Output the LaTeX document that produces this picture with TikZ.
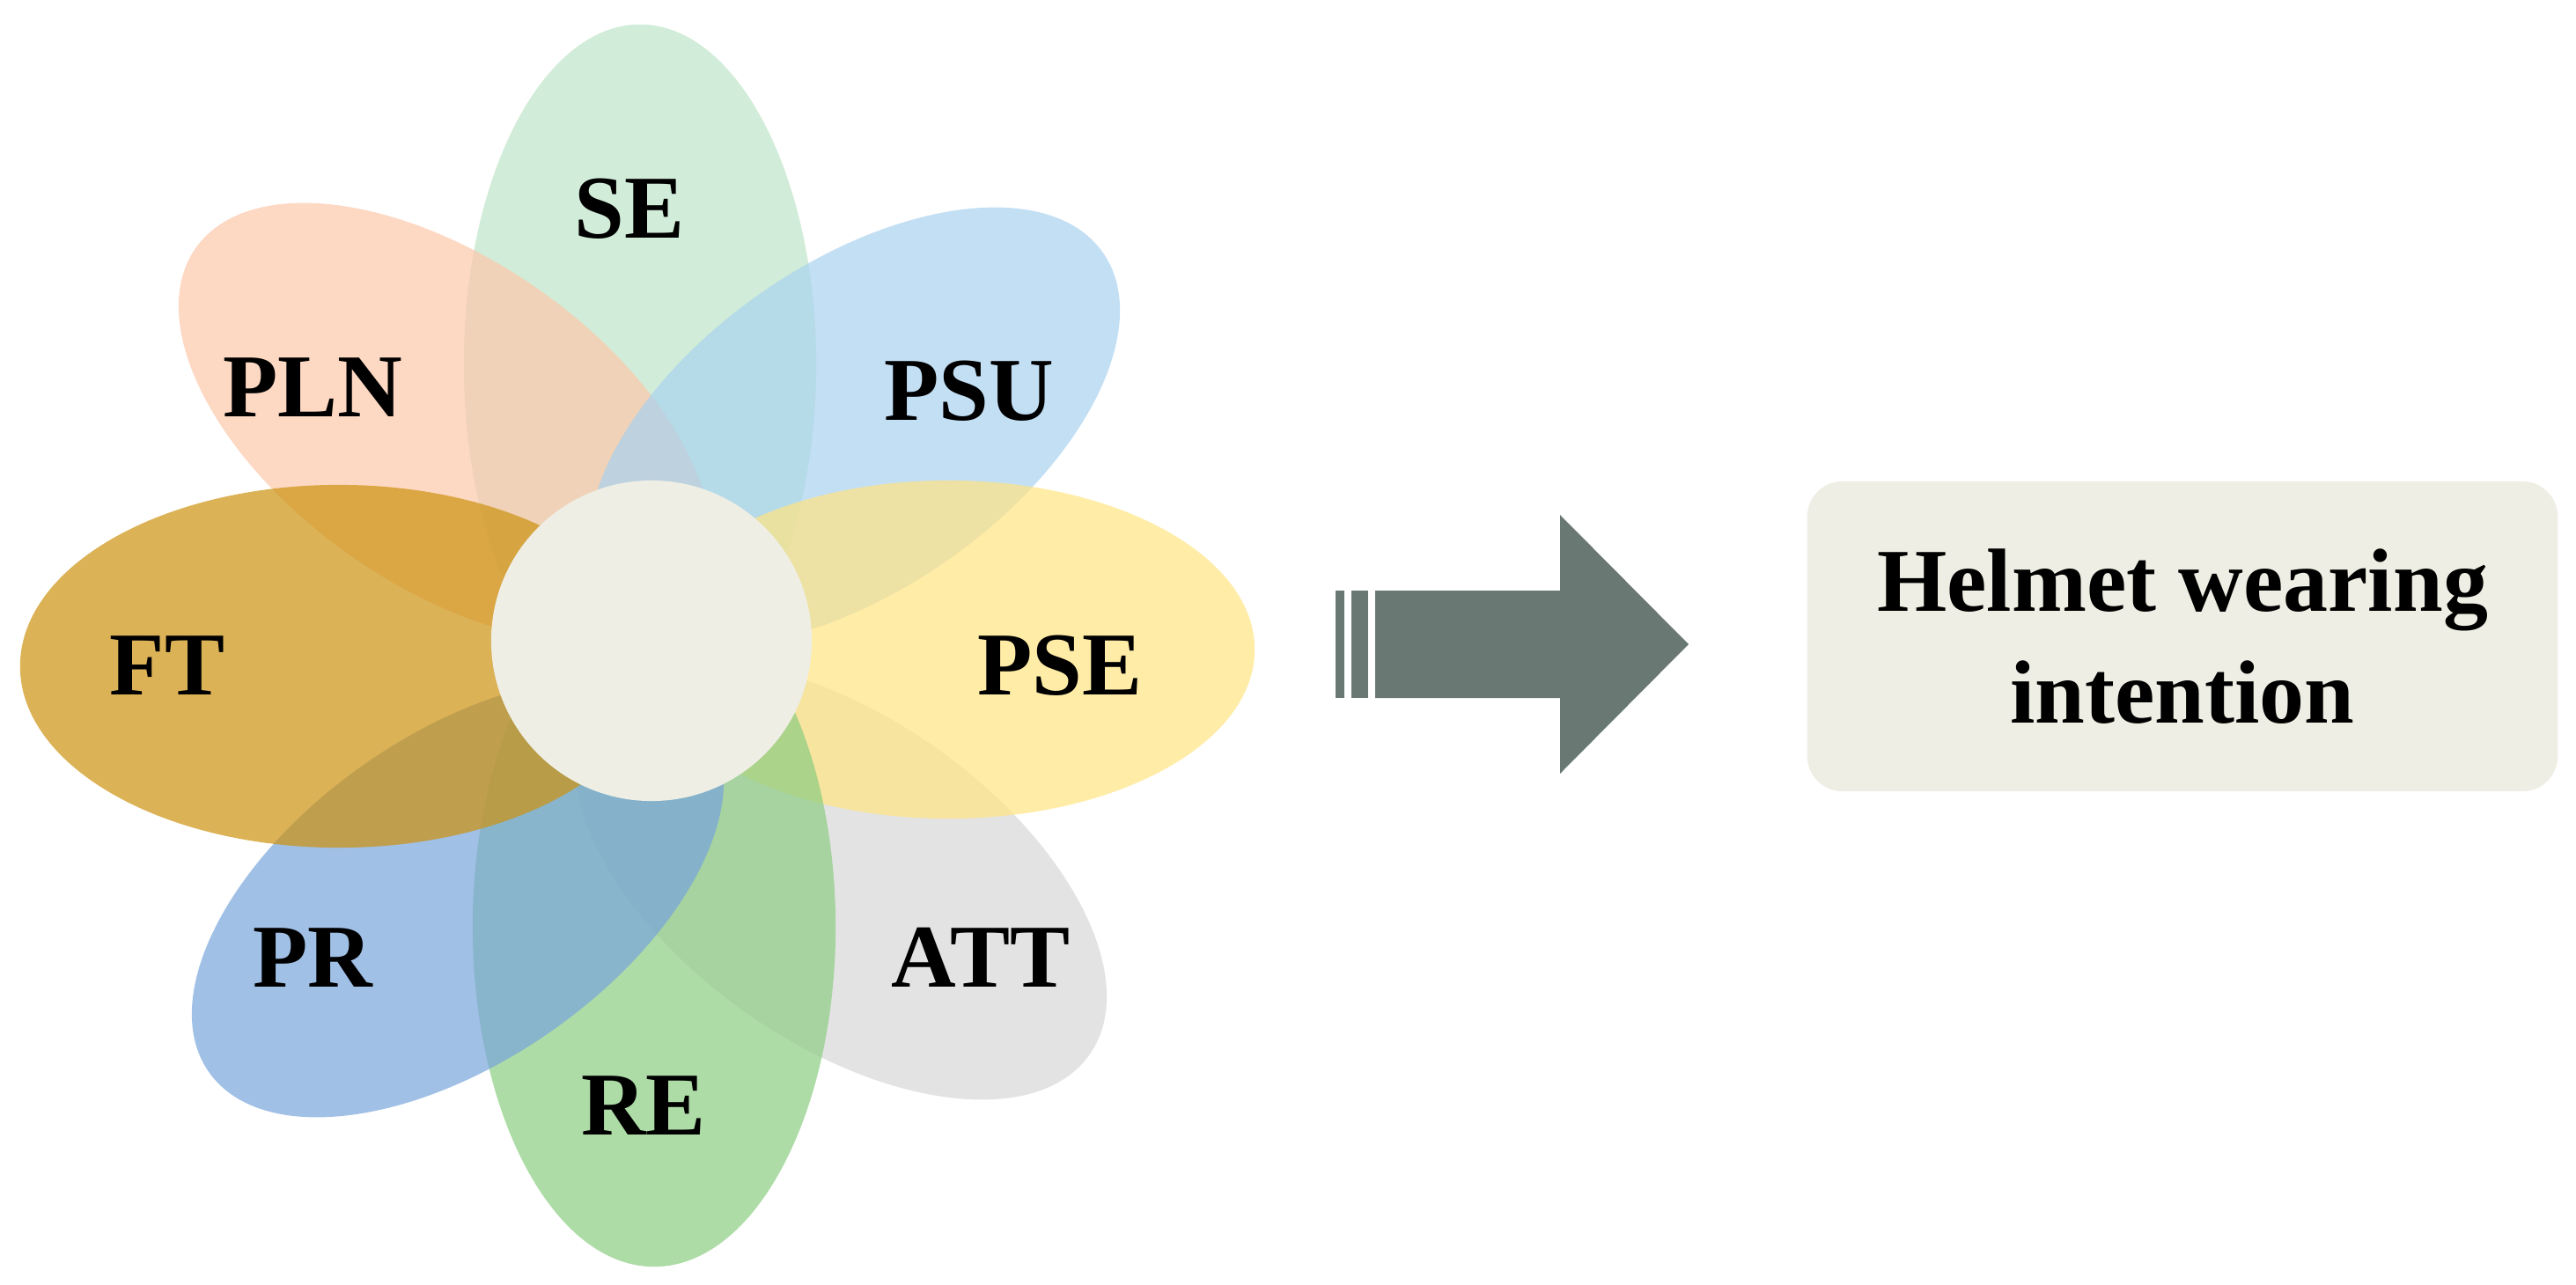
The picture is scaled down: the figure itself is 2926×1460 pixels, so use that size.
\documentclass[tikz,border=0pt]{standalone}
\usepackage{fontspec}
\setmainfont{Liberation Serif}
\usetikzlibrary{shapes.geometric}
\definecolor{cSE}{RGB}{190,228,200}
\definecolor{cPLN}{RGB}{252,200,170}
\definecolor{cPSU}{RGB}{170,210,240}
\definecolor{cPSE}{RGB}{255,228,130}
\definecolor{cATT}{RGB}{215,215,215}
\definecolor{cRE}{RGB}{140,205,130}
\definecolor{cPR}{RGB}{120,165,220}
\definecolor{cFT}{RGB}{205,145,15}
\definecolor{cArr}{RGB}{105,120,115}
\definecolor{cBox}{RGB}{238,238,228}
\begin{document}
\begin{tikzpicture}[x=0.01cm,y=-0.01cm,
 petal/.style={ellipse,draw=none,fill opacity=0.7,inner sep=0},
 lab/.style={font=\fontsize{29}{34}\selectfont\bfseries}]
\useasboundingbox (0,0) rectangle (2926,1460);
\node[petal,fill=cSE,minimum width=4.0cm,minimum height=7.72cm] (se) at (727,414) {};
\node[petal,fill=cPLN,minimum width=6.9cm,minimum height=3.7cm,rotate=-35] (pln) at (505,480) {};
\node[petal,fill=cPSU,minimum width=6.9cm,minimum height=3.7cm,rotate=35] (psu) at (970,485) {};
\node[petal,fill=cATT,minimum width=6.9cm,minimum height=3.7cm,rotate=-35] (att) at (955,1000) {};
\node[petal,fill=cPSE,minimum width=6.96cm,minimum height=3.84cm] (pse) at (1077,738) {};
\node[petal,fill=cRE,minimum width=4.12cm,minimum height=7.72cm] (re) at (743,1053) {};
\node[petal,fill=cPR,minimum width=6.9cm,minimum height=3.7cm,rotate=35] (pr) at (520,1020) {};
\node[petal,fill=cFT,minimum width=7.24cm,minimum height=4.12cm] (ft) at (385,757) {};
\node[circle,fill=cBox,minimum size=3.64cm,inner sep=0] (c) at (740,728) {};
\node[lab] (tse) at (715,237) {SE};
\node[lab] (tpln) at (355,440) {PLN};
\node[lab] (tpsu) at (1101,444) {PSU};
\node[lab] (tft) at (190,756) {FT};
\node[lab] (tpse) at (1204,756) {PSE};
\node[lab] (tpr) at (355,1088) {PR};
\node[lab] (tatt) at (1114,1088) {ATT};
\node[lab] (tre) at (731,1256) {RE};
\fill[cArr] (1517,671) rectangle (1527,793);
\fill[cArr] (1535,671) rectangle (1554,793);
\fill[cArr] (1562,671) -- (1772,671) -- (1772,585) -- (1918,732) -- (1772,879) -- (1772,793) -- (1562,793) -- cycle;
\node[draw=none,fill=cBox,rounded corners=0.4cm,minimum width=8.52cm,minimum height=3.52cm,align=center,font=\fontsize{29}{36}\selectfont\bfseries] (box) at (2479,723) {Helmet wearing\\intention};
\end{tikzpicture}
\end{document}
